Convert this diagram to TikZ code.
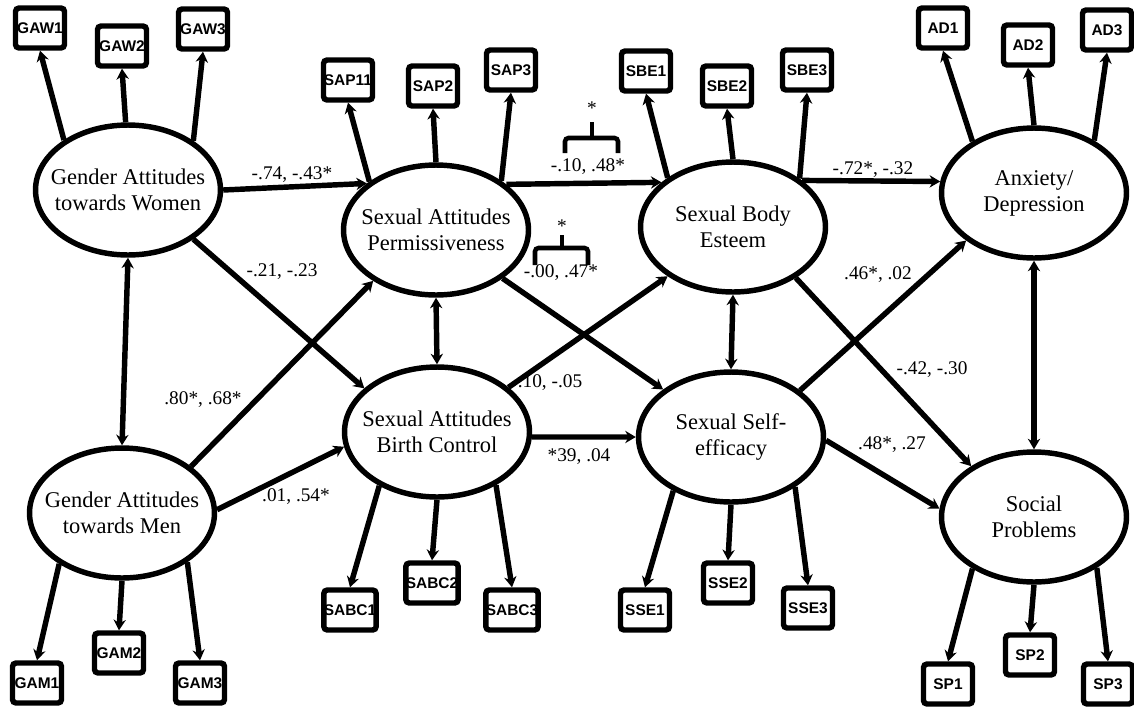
\documentclass[tikz,border=0pt]{standalone}
\usepackage{fontspec}
\setmainfont{Liberation Serif}
\setsansfont{Liberation Sans}
\usepackage{tikz}
\usetikzlibrary{arrows.meta, shapes.geometric}
\tikzset{>={Stealth[length=6pt,width=7pt]}}

\begin{document}
\begin{tikzpicture}[x=0.02cm, y=-0.02cm, line width=3.1pt,
	latent/.style={ellipse, draw, minimum width=3.7cm, minimum height=2.6cm, inner sep=0pt},
	lname/.style={align=center, font=\fontsize{12.8}{14.8}\selectfont},
	obs/.style={draw, rounded corners=2pt, minimum width=0.98cm, minimum height=0.8cm, inner sep=0pt, font=\sffamily\bfseries\fontsize{8.8}{10}\selectfont},
	coef/.style={font=\fontsize{11}{13}\selectfont, inner sep=1pt}]
		\useasboundingbox (0,0) rectangle (1134,708);
		% latent factors
		\node[latent, label={[lname]center:Gender Attitudes\\towards Women}] (GAW) at (128,190) {};
		\node[latent, label={[lname]center:Gender Attitudes\\towards Men}] (GAM) at (122,513) {};
		\node[latent, label={[lname]center:Sexual Attitudes\\Permissiveness}] (SAP) at (436,230) {};
		\node[latent, label={[lname]center:Sexual Attitudes\\Birth Control}] (SABC) at (437,432) {};
		\node[latent, label={[lname]center:Sexual Body\\Esteem}] (SBE) at (733,227) {};
		\node[latent, label={[lname]center:Sexual Self-\\efficacy}] (SSE) at (731,437) {};
		\node[latent, label={[lname]center:Anxiety/\\Depression}] (AD) at (1034,193) {};
		\node[latent, label={[lname]center:Social\\Problems}] (SP) at (1034,517) {};
		
		% indicators
		\node[obs] (GAW1) at (40,28) {GAW1};   \node[obs] (GAW2) at (122,46) {GAW2};   \node[obs] (GAW3) at (203,29) {GAW3};
		\node[obs] (SAP11) at (348,80) {SAP11}; \node[obs] (SAP2) at (433,86) {SAP2};   \node[obs] (SAP3) at (511,70) {SAP3};
		\node[obs] (SBE1) at (646,71) {SBE1};   \node[obs] (SBE2) at (727,86) {SBE2};   \node[obs] (SBE3) at (807,70) {SBE3};
		\node[obs] (AD1) at (943,28) {AD1};     \node[obs] (AD2) at (1028,45) {AD2};    \node[obs] (AD3) at (1107,30) {AD3};
		\node[obs] (GAM1) at (37,683) {GAM1};   \node[obs] (GAM2) at (119,653) {GAM2};  \node[obs] (GAM3) at (200,683) {GAM3};
		\node[obs] (SABC1) at (350,610) {SABC1}; \node[obs] (SABC2) at (432,583) {SABC2}; \node[obs] (SABC3) at (512,610) {SABC3};
		\node[obs] (SSE1) at (645,610) {SSE1};  \node[obs] (SSE2) at (728,583) {SSE2};  \node[obs] (SSE3) at (808,608) {SSE3};
		\node[obs] (SP1) at (948,684) {SP1};    \node[obs] (SP2) at (1030,655) {SP2};   \node[obs] (SP3) at (1108,684) {SP3};
		
		\draw [->](GAW.142) -- (GAW1.south); \draw [->](GAW.92) -- (GAW2.south); \draw [->](GAW.37) -- (GAW3.south);
		\draw [->](SAP.144) -- (SAP11.south); \draw [->](SAP.90) -- (SAP2.south); \draw [->](SAP.37) -- (SAP3.south);
		\draw [->](SBE.143) -- (SBE1.south); \draw [->](SBE.90) -- (SBE2.south); \draw [->](SBE.36) -- (SBE3.south);
		\draw [->](AD.140) -- (AD1.south); \draw [->](AD.90) -- (AD2.south); \draw [->](AD.41) -- (AD3.south);
		\draw [->](GAM.219) -- (GAM1.north); \draw [->](GAM.270) -- (GAM2.north); \draw [->](GAM.323) -- (GAM3.north);
		\draw [->](SABC.223) -- (SABC1.north); \draw [->](SABC.270) -- (SABC2.north); \draw [->](SABC.318) -- (SABC3.north);
		\draw [->](SSE.223) -- (SSE1.north); \draw [->](SSE.270) -- (SSE2.north); \draw [->](SSE.322) -- (SSE3.north);
		\draw [->](SP.220) -- (SP1.north); \draw [->](SP.270) -- (SP2.north); \draw [->](SP.321) -- (SP3.north);
		
		% structural paths
		\draw [->](GAW.0) -- (SAP.146);   \draw [->](GAW.323) -- (SABC.149);
		\draw [->](GAM.34) -- (SAP.219);  \draw [->](GAM.2) -- (SABC.189);
		\draw [->](SAP.33) -- (SBE.148);  \draw [->](SAP.324) -- (SSE.145);
		\draw [->](SABC.32) -- (SBE.217); \draw [->](SABC.357) -- (SSE.180);
		\draw [->](SBE.34) -- (AD.173);   \draw [->](SSE.34) -- (AD.215);
		\draw [->](SBE.321) -- (SP.141);  \draw [->](SSE.358) -- (SP.175);
		\draw [<->](GAW.south) -- (GAM.north); \draw [<->](SAP.south) -- (SABC.north);
		\draw [<->](SBE.south) -- (SSE.north); \draw [<->](AD.south) -- (SP.north);
		
		\node[coef] (c1) at (292,175) {-.74, -.43*};
		\node[coef] (c2) at (282,272) {-.21, -.23};
		\node[coef] (c3) at (203,400) {.80*, .68*};
		\node[coef] (c4) at (296,497) {.01, .54*};
		\node[coef] (c5) at (588,167) {-.10, .48*};
		\node[coef] (c6) at (561,273) {-.00, .47*};
		\node[coef] (c7) at (550,383) {.10, -.05};
		\node[coef] (c8) at (579,457) {*39, .04};
		\node[coef] (c9) at (873,170) {-.72*, -.32};
		\node[coef] (c10) at (878,275) {.46*, .02};
		\node[coef] (c11) at (932,370) {-.42, -.30};
		\node[coef] (c12) at (892,445) {.48*, .27};
		
		% brackets
		\draw [line width=2.6pt, rounded corners=2pt](565,153) -- (565,138) -- (618,138) -- (618,153);
		\draw [line width=2.6pt](592,138) -- (592,122);
		\node[coef] (s1) at (592,108) {*};
		\draw [line width=2.6pt, rounded corners=2pt](535,265) -- (535,248) -- (588,248) -- (588,265);
		\draw [line width=2.6pt](562,248) -- (562,235);
		\node[coef] (s2) at (562,226) {*};
\end{tikzpicture}
\end{document}
